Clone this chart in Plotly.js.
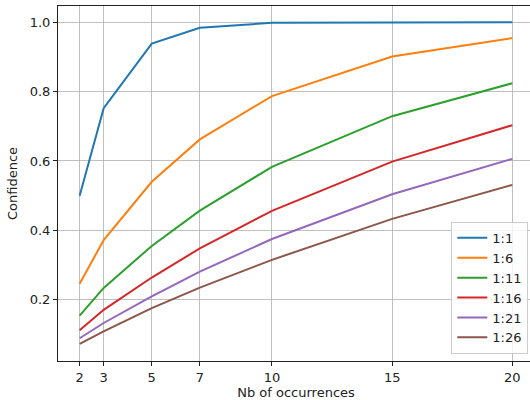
<!DOCTYPE html>
<html>
<head>
<meta charset="utf-8">
<script src="https://cdn.plot.ly/plotly-3.0.1.min.js"></script>
<style>html,body{margin:0;padding:0;overflow:hidden;background:#fff;}</style>
</head>
<body>
<div id="chart"></div>
<script>
const occurrences = [2, 3, 5, 7, 10, 15, 20];
const seriesNames = ["1:1", "1:6", "1:11", "1:16", "1:21", "1:26"];
const s1_1  = [0.500, 0.752, 0.938, 0.984, 0.998, 0.999, 1.000];
const s1_6  = [0.246, 0.372, 0.540, 0.662, 0.787, 0.901, 0.954];
const s1_11 = [0.154, 0.234, 0.355, 0.457, 0.583, 0.729, 0.824];
const s1_16 = [0.112, 0.171, 0.264, 0.348, 0.456, 0.598, 0.703];
const s1_21 = [0.089, 0.133, 0.210, 0.281, 0.375, 0.504, 0.606];
const s1_26 = [0.073, 0.109, 0.176, 0.235, 0.315, 0.433, 0.531];
const seriesValues = [s1_1, s1_6, s1_11, s1_16, s1_21, s1_26];
const colors = ["#1f77b4", "#ff7f0e", "#2ca02c", "#d62728", "#9467bd", "#8c564b"];
const xTicks = [2, 3, 5, 7, 10, 15, 20];
const yTicks = [0.2, 0.4, 0.6, 0.8, 1.0];
const yTickLabels = ["0.2", "0.4", "0.6", "0.8", "1.0"];

const font = "DejaVu Sans, sans-serif";
const fs = 13;
const traces = seriesNames.map((n, i) => ({
  x: occurrences, y: seriesValues[i], name: n, type: "scatter", mode: "lines",
  line: {color: colors[i], width: 2}
}));

const axisCommon = {
  showline: true, linecolor: "#222", linewidth: 1, mirror: true,
  ticks: "outside", ticklen: 4, tickcolor: "#222", tickwidth: 1,
  showgrid: true, gridcolor: "#b0b0b0", gridwidth: 0.8, zeroline: false,
  tickfont: {family: font, size: fs, color: "#222"}
};

const layout = {
  width: 540, height: 400,
  margin: {l: 58, r: 6, t: 6, b: 39},
  paper_bgcolor: "#fff", plot_bgcolor: "#fff",
  font: {family: font, size: fs, color: "#222"},
  xaxis: Object.assign({}, axisCommon, {
    range: [1.1, 20.9], tickvals: xTicks,
    title: {text: "Nb of occurrences", font: {family: font, size: fs}, standoff: 5}
  }),
  yaxis: Object.assign({}, axisCommon, {
    range: [0.0235, 1.0465], tickvals: yTicks, ticktext: yTickLabels,
    title: {text: "Confidence", font: {family: font, size: fs}, standoff: 9}
  }),
  showlegend: true,
  legend: {
    x: 0.988, y: 0.02, xanchor: "right", yanchor: "bottom",
    bgcolor: "rgba(255,255,255,0.8)", bordercolor: "#cccccc", borderwidth: 1,
    font: {family: font, size: fs}, tracegroupgap: 0, itemwidth: 30
  }
};

Plotly.newPlot("chart", traces, layout, {staticPlot: true, displayModeBar: false});
</script>
</body>
</html>
